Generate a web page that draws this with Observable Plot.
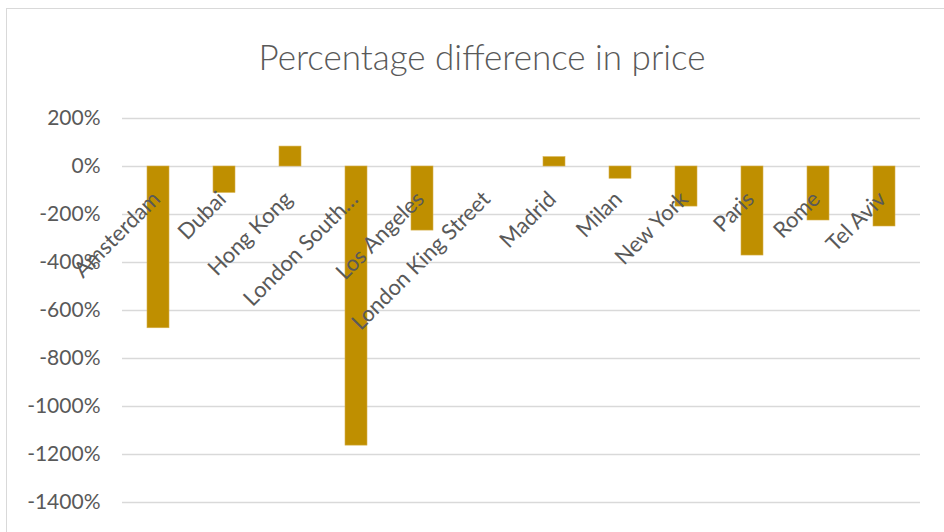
<!DOCTYPE html>
<html>
<head>
<meta charset="utf-8">
<script src="https://cdn.jsdelivr.net/npm/d3@7"></script>
<script src="https://cdn.jsdelivr.net/npm/@observablehq/plot@0.6"></script>
<style>
  html, body { margin: 0; padding: 0; background: #fff; }
  #wrap { position: relative; width: 944px; height: 532px; overflow: hidden; font-family: Lato, "Open Sans", sans-serif; }
  #frame { position: absolute; left: 6px; top: 8px; width: 1000px; height: 1000px; border: 1.5px solid #d9d9d9; box-sizing: border-box; }
  #title { position: absolute; left: 0; top: 34px; width: 964px; text-align: center; font-size: 35px; line-height: 44px; color: #595959; font-weight: 300; }
  #chart { position: absolute; left: 0; top: 0; }
</style>
</head>
<body>
<div id="wrap">
  <div id="frame"></div>
  <div id="title">Percentage difference in price</div>
  <div id="chart"></div>
</div>
<script>
const cities = ["Amsterdam", "Dubai", "Hong Kong", "London South…", "Los Angeles", "London King Street", "Madrid", "Milan", "New York", "Paris", "Rome", "Tel Aviv"];
const values = [-674, -110, 83, -1163, -267, 0, 39, -51, -167, -371, -225, -250];
const yTicks = [200, 0, -200, -400, -600, -800, -1000, -1200, -1400];

const data = cities.map((c, i) => ({city: c, value: values[i]}));

const plot = Plot.plot({
  width: 944,
  height: 532,
  marginTop: 118,
  marginBottom: 30,
  marginLeft: 122,
  marginRight: 24,
  style: {fontFamily: "Lato, 'Open Sans', sans-serif", fontSize: "21px", color: "#595959", background: "transparent"},
  x: {domain: cities, paddingInner: 0.66, paddingOuter: 0.33, axis: null},
  y: {domain: [-1400, 200], ticks: yTicks, tickFormat: d => d + "%", label: null, tickSize: 0, tickPadding: 22},
  marks: [
    Plot.gridY(yTicks, {stroke: "#d9d9d9", strokeOpacity: 1, strokeWidth: 1.5}),
    Plot.barY(data, {x: "city", y: "value", fill: "#bf8f00", stroke: "#d6b04a", strokeWidth: 0.6}),
    Plot.axisY(yTicks, {tickSize: 0, tickPadding: 22, tickFormat: d => d + "%", fontSize: 21, fill: "#595959", label: null}),
    Plot.text(data, {x: "city", y: () => 0, text: "city", rotate: -45, textAnchor: "end", lineAnchor: "bottom", dx: 3, dy: 34, fontSize: 22, fill: "#595959"})
  ]
});
document.getElementById("chart").appendChild(plot);
</script>
</body>
</html>
